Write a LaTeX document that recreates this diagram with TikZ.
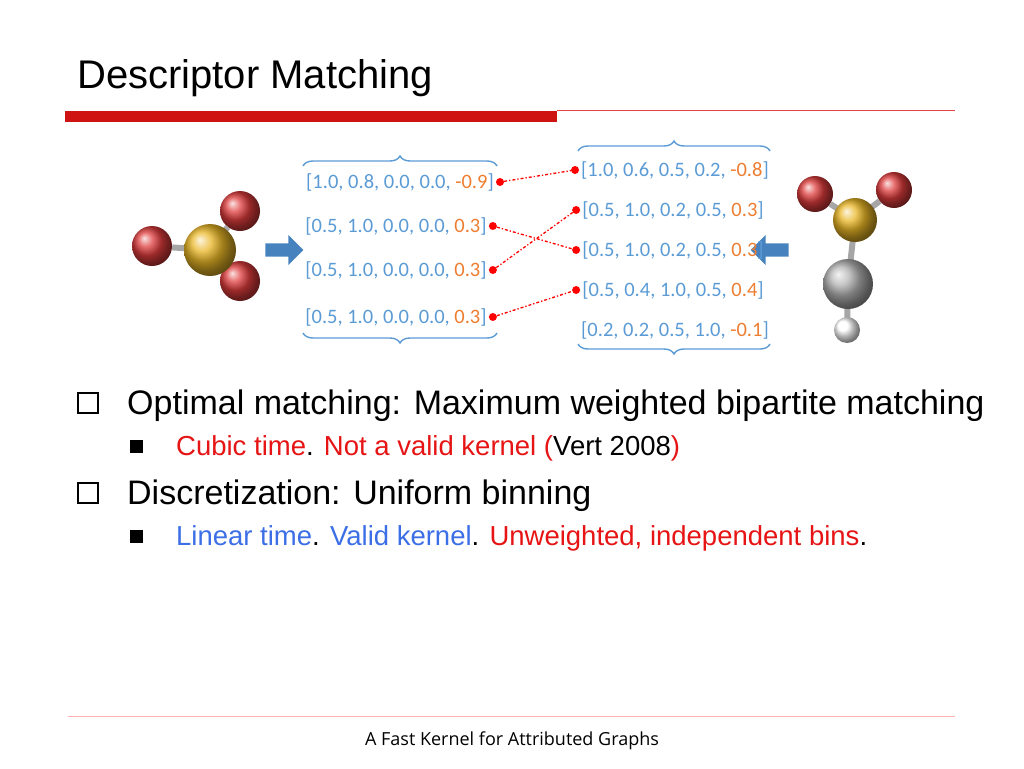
\documentclass[tikz,border=0pt]{standalone}
\usepackage{fontspec}
\setmainfont{Liberation Sans}
\newfontfamily\vecfont{Carlito}
\newfontfamily\footfont{Open Sans}
\usetikzlibrary{shapes.arrows,decorations.pathreplacing}
\definecolor{vblue}{RGB}{91,155,213}
\definecolor{vorange}{RGB}{237,125,49}
\definecolor{tred}{RGB}{230,20,20}
\definecolor{tblue}{RGB}{60,110,230}
\definecolor{arrblue}{RGB}{70,130,190}
\definecolor{sulfur}{RGB}{230,170,0}
\definecolor{oxy}{RGB}{215,25,25}
\newcommand{\vo}[1]{\textcolor{vorange}{#1}}

\tikzset{
  vec/.style={font=\vecfont\fontsize{20.5}{22}\selectfont, text=vblue, inner sep=1pt},
  dot/.style={circle, fill=red, inner sep=0pt, minimum size=8pt},
  match/.style={red, line width=1.3pt, dash dot},
  brc/.style={draw=vblue, line width=1.4pt, decorate, decoration={brace, amplitude=10pt}},
  atom/.style={circle, shading=ball, inner sep=0pt},
  bond/.style={line width=6pt, gray!70},
  fat/.style={single arrow, fill=arrblue, draw=none, minimum height=38pt, minimum width=30pt, single arrow head extend=4pt, inner sep=3pt},
  bigtext/.style={font=\fontsize{34}{37}\selectfont, anchor=base west, inner sep=0pt},
  smalltext/.style={font=\fontsize{27.5}{30}\selectfont, anchor=base west, inner sep=0pt}
}

\begin{document}
\begin{tikzpicture}[x=1pt, y=-1pt]
\useasboundingbox (0,0) rectangle (1024,768);

% title
\node[font=\fontsize{40}{42}\selectfont, anchor=base west, inner sep=0pt] (title) at (77,88) {Descriptor Matching};
\fill[tred!90!black] (65,111) rectangle (557,122);
\draw[tred!80, thin] (557,110) -- (955,110);

% left molecule
\node[atom, ball color=oxy!85!white, minimum size=40pt] (lo1) at (240,211) {};
\node[atom, ball color=oxy!85!white, minimum size=40pt] (lo2) at (152,246) {};
\node[atom, ball color=oxy!85!white, minimum size=40pt] (lo3) at (240,281) {};
\draw[bond] (210,250) -- (lo1) (210,250) -- (lo2) (210,250) -- (lo3);
\node[atom, ball color=sulfur!85!white, minimum size=52pt] (ls) at (210,250) {};

% right molecule
\node[atom, ball color=oxy!85!white, minimum size=36pt] (ro1) at (815,194) {};
\node[atom, ball color=oxy!85!white, minimum size=36pt] (ro2) at (894,190) {};
\draw[bond] (855,220) -- (ro1) (855,220) -- (ro2) (855,220) -- (848,284) -- (847,330);
\node[atom, ball color=gray!60, minimum size=50pt] (rc) at (848,284) {};
\node[atom, ball color=white, minimum size=26pt] (rh) at (847,330) {};
\node[atom, ball color=sulfur!85!white, minimum size=44pt] (rs) at (855,220) {};

% arrows
\node[fat] (la) at (281,250) {};
\node[fat, shape border rotate=180] (ra) at (773,250) {};

% left descriptors
\node[vec] (l1) at (400,182) {[1.0, 0.8, 0.0, 0.0, \vo{-0.9}]};
\node[vec] (l2) at (396,226) {[0.5, 1.0, 0.0, 0.0, \vo{0.3}]};
\node[vec] (l3) at (396,270) {[0.5, 1.0, 0.0, 0.0, \vo{0.3}]};
\node[vec] (l4) at (396,317) {[0.5, 1.0, 0.0, 0.0, \vo{0.3}]};

% right descriptors
\node[vec] (r1) at (675,170) {[1.0, 0.6, 0.5, 0.2, \vo{-0.8}]};
\node[vec] (r2) at (673,210) {[0.5, 1.0, 0.2, 0.5, \vo{0.3}]};
\node[vec] (r3) at (673,250) {[0.5, 1.0, 0.2, 0.5, \vo{0.3}]};
\node[vec] (r4) at (673,290) {[0.5, 0.4, 1.0, 0.5, \vo{0.4}]};
\node[vec] (r5) at (675,330) {[0.2, 0.2, 0.5, 1.0, \vo{-0.1}]};

% braces
\draw[brc] (303,166) -- (497,166);
\draw[brc] (497,333) -- (303,333);
\draw[brc] (578,151) -- (770,151);
\draw[brc] (770,344) -- (578,344);

% dots
\foreach \n in {1,...,4} {
  \node[dot] (dl\n) at ([xshift=5pt]l\n.east) {};
  \node[dot] (dr\n) at ([xshift=-5pt]r\n.west) {};
}

% matches
\draw[match] (dl1) -- (dr1);
\draw[match] (dl2) -- (dr3);
\draw[match] (dl3) -- (dr2);
\draw[match] (dl4) -- (dr4);

% bullets
\draw[line width=2pt] (78,393) rectangle (98,413);
\node[bigtext] (b1) at (127,414) {Optimal matching: Maximum weighted bipartite matching};
\fill (130,440) rectangle (143,453);
\node[smalltext] (s1) at (176,455) {\textcolor{tred}{Cubic time}. \textcolor{tred}{Not a valid kernel (}Vert 2008\textcolor{tred}{)}};
\draw[line width=2pt] (78,483) rectangle (98,503);
\node[bigtext] (b2) at (127,504) {Discretization: Uniform binning};
\fill (130,530) rectangle (143,543);
\node[smalltext] (s2) at (176,545) {\textcolor{tblue}{Linear time}. \textcolor{tblue}{Valid kernel}. \textcolor{tred}{Unweighted, independent bins}.};

% footer
\draw[red!30] (68,716) -- (955,716);
\node[font=\footfont\fontsize{18}{20}\selectfont] (foot) at (512,741) {A Fast Kernel for Attributed Graphs};
\end{tikzpicture}
\end{document}
